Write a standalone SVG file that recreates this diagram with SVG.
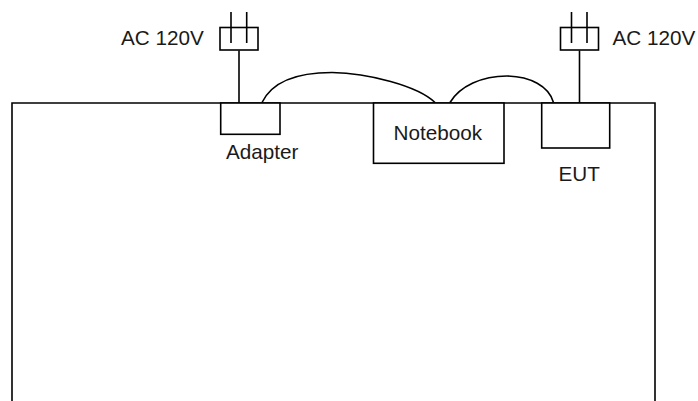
<svg xmlns="http://www.w3.org/2000/svg" width="698" height="401" viewBox="0 0 698 401">
<style>
.l{fill:none;stroke:#000;stroke-width:1.6}
.b{fill:#fff;stroke:#000;stroke-width:1.6}
text{font-family:"Liberation Sans",Arial,sans-serif;font-size:20.700px;fill:#1a1a1a}
</style>
<rect width="698" height="401" fill="#fff"/>
<g id="table"><path class="l" d="M12 401V103H655V401"/></g>
<g id="connectors">
<path class="l" d="M239 50.500V103"/>
<path class="l" d="M579.500 50.500V103"/>
<path class="l" d="M262 102.500C272 82 297 72.500 332 72.500C368 73 418 86 435 102.500"/>
<path class="l" d="M450 102.500C460 86 482 76 507 76C530 76.500 549 86 553.500 102.500"/>
</g>
<g id="plug-left"><rect class="l" x="220" y="27.500" width="38" height="22.500"/><path class="l" d="M231 12V43M246.700 12V43"/><text x="121" y="45">AC 120V</text></g>
<g id="plug-right"><rect class="l" x="560.500" y="27.500" width="38" height="22.500"/><path class="l" d="M571.500 12V43M587 12V43"/><text x="612.500" y="45">AC 120V</text></g>
<g id="adapter"><rect class="b" x="220.700" y="103" width="59.300" height="31.300"/><text x="226" y="158.500">Adapter</text></g>
<g id="notebook"><rect class="b" x="373.500" y="103" width="130.500" height="60.300"/><text x="393.500" y="139.500">Notebook</text></g>
<g id="eut"><rect class="b" x="541.700" y="103" width="68" height="45"/><text x="558.500" y="181">EUT</text></g>
</svg>
